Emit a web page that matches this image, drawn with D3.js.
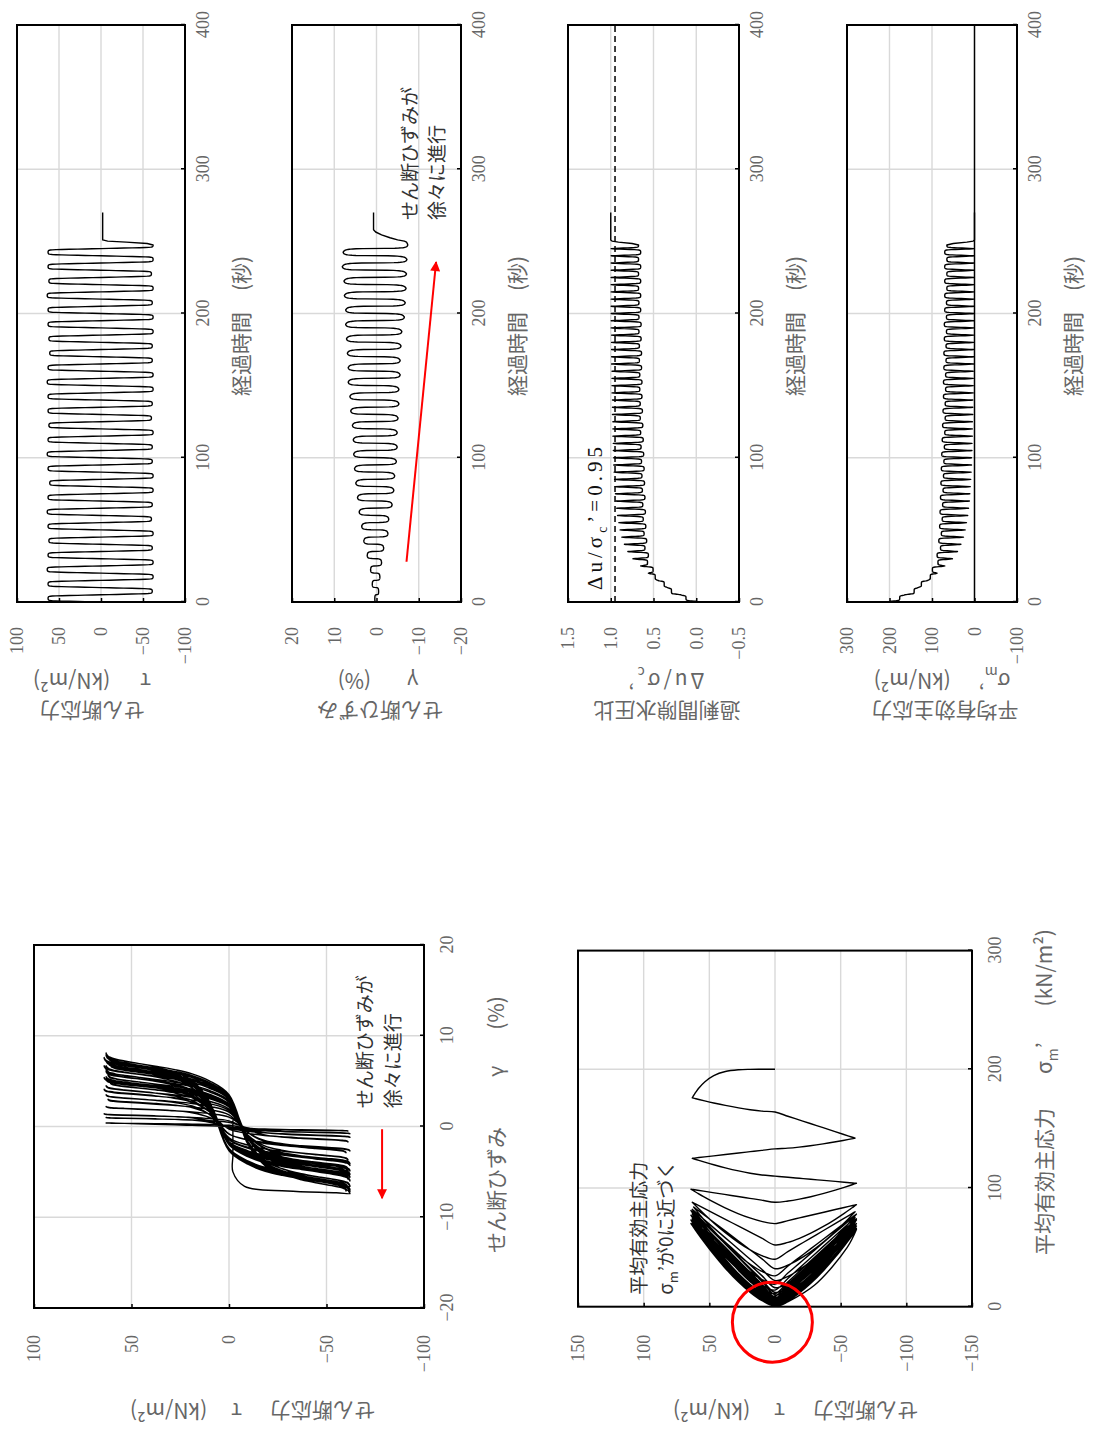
<!DOCTYPE html>
<html>
<head>
<meta charset="utf-8">
<script src="https://cdn.jsdelivr.net/npm/d3@7"></script>
<style>
body{margin:0;background:#fff}
.tick text{font-family:"Liberation Serif",serif;font-size:18px;fill:#666}
.ttl{font-family:"Noto Sans CJK JP",sans-serif;font-size:21px;fill:#666}
.note{font-family:"Noto Sans CJK JP",sans-serif;font-size:19px;fill:#333}
</style>
</head>
<body>
<svg id="fig"></svg>
<script>
// cyclic undrained shear test, loading period 10 s, 25 cycles
var period = 10;
var sm0 = 200;   // initial mean effective stress

// peak shear stress of each cycle (kN/m2)
var tauPos = [63,63,64,63,62,63,64,63,61,63,64,63,62,63,63,64,63,61,62,63,63,64,62,63,63];
var tauNeg = [-61,-62,-62,-61,-62,-60,-61,-62,-62,-61,-61,-62,-60,-61,-62,-62,-61,-61,-62,-62,-61,-62,-60,-62,-62];

// peak shear strain of each cycle (%)
var gammaPos = [0.4,1.0,1.4,2.2,3.0,3.5,4.1,4.5,4.9,5.2,5.4,5.5,5.7,6.1,6.3,6.7,6.7,6.9,7.1,7.3,7.3,7.6,7.7,8.1,7.9];
var gammaNeg = [-0.5,-0.8,-1.2,-1.7,-2.7,-2.9,-3.7,-4.1,-4.3,-4.7,-4.9,-4.9,-5.1,-5.3,-5.3,-5.6,-5.6,-5.8,-6.0,-6.6,-6.8,-7.0,-7.1,-7.2,-7.4];

// mean effective stress at each stress peak, and where stress passes zero (kN/m2)
var smPeak = [176,142,125,104,99,86,88,80,84,78,82,76,81,75,80,74,79,73,78,72,77,71,76,70,75,
              69,74,69,73,68,73,68,72,67,72,67,71,66,71,66,70,66,70,65,70,65,70,65,70,65];
var smZero = [164,133,110,88,70,52,40,32,26,22,19,16,14,12,11,10,9,8,7,7,6,6,5,5,5,
              4,4,4,3,3,3,3,2,2,2,2,2,1,1,1,1,1,1,1,1,1,1,1,1];

// shape of a half cycle, 40 steps
var waveQuarter = [1,1,1,1,.999,.998,.997,.995,.993,.99,.985,.975,.955,.92,.85,.74,.6,.44,.3,.16,0];
var strainStep = [0,.002,.004,.006,.008,.011,.013,.016,.02,.024,.028,.033,.04,.048,.06,.075,.095,.12,.15,.2,
                  .3,.65,.8,.86,.9,.925,.942,.955,.965,.972,.978,.983,.987,.99,.992,.994,.996,.997,.998,.999,1];
var unloadPow = 1.5, firstPow = 5;

// after the last cycle
var tailT   = [248.5,249.5,250.2,251,252.5,254.5,256.5,258,270];
var tailTau = [-55,-30,-8,-2,-2,-2,-2,-2,-2];
var tailGam = [-7.3,-7.1,-6.6,-5.0,-3.2,-1.2,0.2,0.7,0.7];
var tailSm  = [50,18,3,0,0,0,0,0,0];

// build the record
var tauPk = [], gamPk = [];
for (var j = 0; j < tauPos.length; j++) {
  tauPk.push(tauPos[j], tauNeg[j]);
  gamPk.push(gammaPos[j], gammaNeg[j]);
}
var half = period / 2, N = 40, Q = 20;
var wq = waveQuarter;
var rec = [{t: 0, tau: 0, gam: 0, sm: sm0}];
for (var i = Q + 1; i <= N; i++) {
  var f = wq[N - i];
  rec.push({t: (i / N - 0.5) * half, tau: tauPk[0] * f, gam: gamPk[0] * f,
    sm: sm0 + (smPeak[0] - sm0) * Math.pow(f, firstPow)});
}
for (var k = 0; k < tauPk.length - 1; k++) {
  var t0 = half / 2 + k * half, z = smZero[k];
  for (var i = 1; i <= N; i++) {
    var p = {t: t0 + i / N * half};
    if (i <= Q) {
      p.tau = tauPk[k] * wq[i];
      p.sm = z + (smPeak[k] - z) * Math.pow(wq[i], unloadPow);
    } else {
      p.tau = tauPk[k + 1] * wq[N - i];
      p.sm = z + (smPeak[k + 1] - z) * wq[N - i];
    }
    p.gam = gamPk[k] + (gamPk[k + 1] - gamPk[k]) * strainStep[i];
    rec.push(p);
  }
}
tailT.forEach(function(t, i) {
  rec.push({t: t, tau: tailTau[i], gam: tailGam[i], sm: tailSm[i]});
});
rec.forEach(function(d) { d.du = 1 - d.sm / sm0; });

var svg = d3.select("#fig").attr("width", 1097).attr("height", 1438).style("display", "block");
svg.append("rect").attr("width", 1097).attr("height", 1438).attr("fill", "#fff");
var defs = svg.append("defs");
defs.append("marker").attr("id", "ah").attr("viewBox", "0 0 10 10")
  .attr("refX", 9).attr("refY", 5).attr("markerWidth", 6).attr("markerHeight", 5)
  .attr("orient", "auto")
  .append("path").attr("d", "M0,0L10,5L0,10z").attr("fill", "#f00");

// the figure is laid out landscape and turned a quarter turn
var root = svg.append("g").attr("transform", "translate(0,1438) rotate(-90)");

function panel(o) {
  var g = root.append("g").attr("transform", "translate(" + o.x0 + "," + o.y0 + ")");
  var x = d3.scaleLinear().domain(o.xd).range([0, o.w]);
  var y = d3.scaleLinear().domain(o.yd).range([o.h, 0]);
  g.selectAll(".gx").data(o.xg).enter().append("line")
    .attr("x1", x).attr("x2", x).attr("y1", 0).attr("y2", o.h)
    .attr("stroke", "#d9d9d9").attr("stroke-width", 1.4);
  g.selectAll(".gy").data(o.yg).enter().append("line")
    .attr("y1", y).attr("y2", y).attr("x1", 0).attr("x2", o.w)
    .attr("stroke", "#d9d9d9").attr("stroke-width", 1.4);
  var ax = g.append("g").attr("transform", "translate(0," + o.h + ")")
    .call(d3.axisBottom(x).tickValues(o.xt).tickSize(-4).tickPadding(o.xp).tickFormat(o.xf));
  var ay = g.append("g")
    .call(d3.axisLeft(y).tickValues(o.yt).tickSize(-4).tickPadding(o.yp).tickFormat(o.yf));
  [ax, ay].forEach(function(a) {
    a.select(".domain").remove();
    a.selectAll(".tick line").attr("stroke", "#000").attr("stroke-width", 1.5);
  });
  return {g: g, x: x, y: y, w: o.w, h: o.h};
}
function box(p) {
  p.g.append("rect").attr("width", p.w).attr("height", p.h)
    .attr("fill", "none").attr("stroke", "#000").attr("stroke-width", 2);
}
function trace(p, fx, fy, curve) {
  p.g.append("path").datum(rec)
    .attr("d", d3.line().curve(curve || d3.curveLinear)
      .x(function(d) { return p.x(fx(d)); }).y(function(d) { return p.y(fy(d)); }))
    .attr("fill", "none").attr("stroke", "#000").attr("stroke-width", 1.4)
    .attr("stroke-linejoin", "round");
}
var fi = d3.format("d"), f1 = d3.format(".1f");

// time histories (right half of the landscape sheet)
var tOpt = {x0: 836, w: 577, xd: [0, 400], xt: [0, 100, 200, 300, 400], xg: [100, 200, 300],
  xp: 11, yp: 25, xf: fi};
var hist = [
  {y0: 17, h: 168, yd: [-100, 100], yt: [-100, -50, 0, 50, 100], yg: [-50, 0, 50], yf: fi,
   key: "tau", l1: "せん断応力", c1: 92, c2: 92},
  {y0: 292, h: 169, yd: [-20, 20], yt: [-20, -10, 0, 10, 20], yg: [-10, 0, 10], yf: fi,
   key: "gam", l1: "せん断ひずみ", c1: 380, c2: 378},
  {y0: 568, h: 171, yd: [-0.5, 1.5], yt: [-0.5, 0, 0.5, 1, 1.5], yg: [0, 0.5, 1], yf: f1,
   key: "du", l1: "過剰間隙水圧比", c1: 667, c2: 665},
  {y0: 847, h: 170, yd: [-100, 300], yt: [-100, 0, 100, 200, 300], yg: [100, 200], yf: fi,
   key: "sm", l1: "平均有効主応力", c1: 945, c2: 942}
];
var hp = hist.map(function(h) {
  var p = panel(Object.assign({}, tOpt, h));
  if (h.key === "du") {
    p.g.append("line").attr("x1", 0).attr("x2", p.w).attr("y1", p.y(0.95)).attr("y2", p.y(0.95))
      .attr("stroke", "#000").attr("stroke-width", 1.5).attr("stroke-dasharray", "6,4");
  }
  if (h.key === "sm") {
    p.g.append("line").attr("x1", 0).attr("x2", p.w).attr("y1", p.y(0)).attr("y2", p.y(0))
      .attr("stroke", "#000").attr("stroke-width", 1.5);
  }
  trace(p, function(d) { return d.t; }, function(d) { return d[h.key]; });
  box(p);
  root.append("text").attr("class", "ttl").attr("x", 1112).attr("y", h.y0 + h.h + 64)
    .attr("text-anchor", "middle").text("経過時間　(秒)");
  root.append("text").attr("class", "ttl").attr("text-anchor", "middle")
    .attr("transform", "translate(735," + h.c1 + ") rotate(-90)").text(h.l1);
  p.l2 = root.append("text").attr("class", "ttl").attr("text-anchor", "middle")
    .attr("transform", "translate(765," + h.c2 + ") rotate(-90)");
  return p;
});
hp[0].l2.text("τ").append("tspan").attr("dx", 30).text("(kN/m²)");
hp[1].l2.text("γ").append("tspan").attr("dx", 36).text("(%)");
hp[2].l2.attr("letter-spacing", 3).text("Δu/σ");
hp[2].l2.append("tspan").attr("dy", 6).attr("font-size", 14).text("c");
hp[2].l2.append("tspan").attr("dy", -6).text("’");
hp[3].l2.text("σ");
hp[3].l2.append("tspan").attr("dy", 6).attr("font-size", 14).text("m");
hp[3].l2.append("tspan").attr("dy", -6).text("’");
hp[3].l2.append("tspan").attr("dx", 28).text("(kN/m²)");

// notes on the time histories
var p2 = hp[1];
p2.g.append("text").attr("class", "note").attr("x", p2.x(264.8)).attr("y", p2.y(-9.6)).text("せん断ひずみが");
p2.g.append("text").attr("class", "note").attr("x", p2.x(264.8)).attr("y", p2.y(-16)).text("徐々に進行");
p2.g.append("line").attr("x1", p2.x(27.9)).attr("y1", p2.y(-7.1)).attr("x2", p2.x(235.7)).attr("y2", p2.y(-14.1))
  .attr("stroke", "#f00").attr("stroke-width", 2).attr("marker-end", "url(#ah)");
var p3 = hp[2];
var dt = p3.g.append("text").attr("x", p3.x(8.3)).attr("y", p3.y(1.1))
  .attr("font-family", "Liberation Serif, serif").attr("font-size", 21).attr("fill", "#111")
  .attr("letter-spacing", 4).text("Δu/σ");
dt.append("tspan").attr("dy", 5).attr("font-size", 14).text("c");
dt.append("tspan").attr("dy", -5).text("’=0.95");

// stress-strain loops
var lt = panel({x0: 130, w: 363, y0: 34, h: 390, xd: [-20, 20], xt: [-20, -10, 0, 10, 20], xg: [-10, 0, 10],
  yd: [-100, 100], yt: [-100, -50, 0, 50, 100], yg: [-50, 0, 50], xp: 16, yp: 27, xf: fi, yf: fi});
trace(lt, function(d) { return d.gam; }, function(d) { return d.tau; }, d3.curveCatmullRom.alpha(0.5));
box(lt);
lt.g.append("text").attr("class", "note").attr("x", lt.x(2.0)).attr("y", lt.y(-73.3)).text("せん断ひずみが");
lt.g.append("text").attr("class", "note").attr("x", lt.x(2.0)).attr("y", lt.y(-87.7)).text("徐々に進行");
lt.g.append("line").attr("x1", lt.x(-0.3)).attr("y1", lt.y(-78.5)).attr("x2", lt.x(-7.9)).attr("y2", lt.y(-78.5))
  .attr("stroke", "#f00").attr("stroke-width", 2).attr("marker-end", "url(#ah)");
var ltx = root.append("text").attr("class", "ttl").attr("x", 185).attr("y", 504).text("せん断ひずみ");
ltx.append("tspan").attr("dx", 50).text("γ");
ltx.append("tspan").attr("dx", 36).text("(%)");
var lty = root.append("text").attr("class", "ttl").attr("transform", "translate(35,375) rotate(-90)").text("せん断応力");
lty.append("tspan").attr("dx", 28).text("τ");
lty.append("tspan").attr("dx", 24).text("(kN/m²)");

// effective stress path
var lb = panel({x0: 131.3, w: 356.1, y0: 578, h: 394, xd: [0, 300], xt: [0, 100, 200, 300], xg: [100, 200],
  yd: [-150, 150], yt: [-150, -100, -50, 0, 50, 100, 150], yg: [-100, -50, 0, 50, 100],
  xp: 16, yp: 28, xf: fi, yf: fi});
trace(lb, function(d) { return d.sm; }, function(d) { return d.tau; }, d3.curveCatmullRom.alpha(0.5));
box(lb);
lb.g.append("text").attr("class", "note").attr("x", lb.x(10)).attr("y", lb.y(98)).text("平均有効主応力");
var n2 = lb.g.append("text").attr("class", "note").attr("x", lb.x(10)).attr("y", lb.y(78)).text("σ");
n2.append("tspan").attr("dy", 5).attr("font-size", 13).text("m");
n2.append("tspan").attr("dy", -5).text("’が0に近づく");
lb.g.append("circle").attr("cx", lb.x(-13)).attr("cy", lb.y(2)).attr("r", 40)
  .attr("fill", "none").attr("stroke", "#f00").attr("stroke-width", 3);
var lbx = root.append("text").attr("class", "ttl").attr("x", 183).attr("y", 1052).text("平均有効主応力");
lbx.append("tspan").attr("dx", 34).text("σ");
lbx.append("tspan").attr("dy", 6).attr("font-size", 14).text("m");
lbx.append("tspan").attr("dy", -6).text("’");
lbx.append("tspan").attr("dx", 36).text("(kN/m²)");
var lby = root.append("text").attr("class", "ttl").attr("transform", "translate(35,918) rotate(-90)").text("せん断応力");
lby.append("tspan").attr("dx", 28).text("τ");
lby.append("tspan").attr("dx", 24).text("(kN/m²)");
</script>
</body>
</html>
